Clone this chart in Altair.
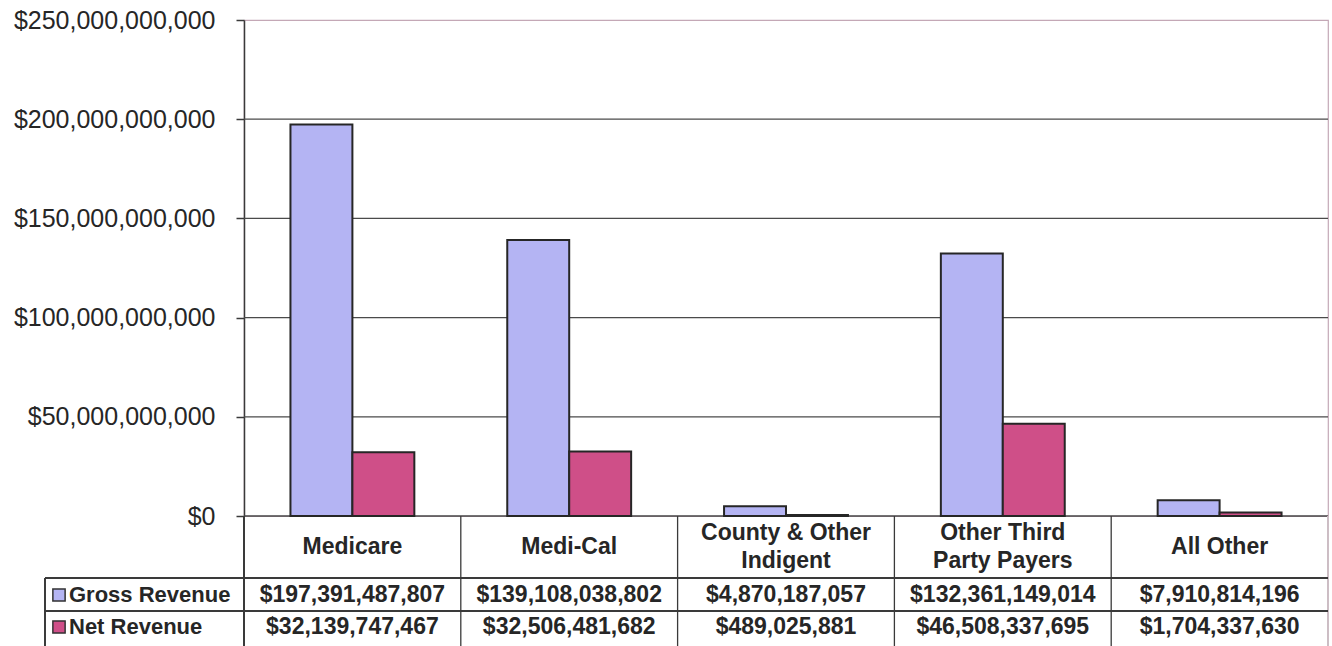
import altair as alt
import pandas as pd

# ---- data ----
categories = ["Medicare", "Medi-Cal", "County & Other Indigent", "Other Third Party Payers", "All Other"]
label_line1 = ["Medicare", "Medi-Cal", "County & Other", "Other Third", "All Other"]
label_line2 = ["", "", "Indigent", "Party Payers", ""]
series = ["Gross Revenue", "Net Revenue"]
gross = [197391487807, 139108038802, 4870187057, 132361149014, 7910814196]
net = [32139747467, 32506481682, 489025881, 46508337695, 1704337630]
y_ticks = [0, 50e9, 100e9, 150e9, 200e9, 250e9]
grid_values = [0, 50e9, 100e9, 150e9, 200e9]
colors = ["#b4b4f3", "#cf4f88"]

# ---- layout / style ----
W, H = 1084, 496
BOTTOM = 646 - 20  # bottom of canvas in plot coordinates
ROW1 = 558         # top of gross row
ROW2 = 591         # top of net row
LEFT_BOX = -199
FONT = "Liberation Sans"
TXT = "#262626"
LINE = "#3a3a3a"
TFS = 23

bars_df = pd.DataFrame(
    [{"cat": c, "series": s, "value": v}
     for s, vals in zip(series, [gross, net]) for c, v in zip(categories, vals)]
)
cat_df = pd.DataFrame({"cat": categories, "line1": label_line1, "line2": label_line2,
                       "gross_txt": [f"${v:,.0f}" for v in gross],
                       "net_txt": [f"${v:,.0f}" for v in net]})
div_df = pd.DataFrame({"cat": categories[1:]})
grid_df = pd.DataFrame({"v": grid_values})
rowlab_df = pd.DataFrame({"series": series, "label": series})

yscale = alt.Scale(domain=[0, 250e9], nice=False)
xscale = alt.Scale(domain=categories, paddingInner=0, paddingOuter=0)
yaxis = alt.Axis(values=y_ticks, format="$,.0f", grid=False, title=None, labelLimit=400,
                 labelFont=FONT, labelFontSize=25, labelColor=TXT, labelPadding=21,
                 tickSize=8, tickColor=LINE, domainColor=LINE, domainWidth=1.5, tickWidth=1.5)
xenc = alt.X("cat:N", sort=categories, scale=xscale, axis=None, bandPosition=0.5)

grid = alt.Chart(grid_df).mark_rule(color="#4a4a4a", strokeWidth=1.3).encode(
    y=alt.Y("v:Q", scale=yscale, axis=yaxis)
)

bars = alt.Chart(bars_df).mark_bar(stroke="#262626", strokeWidth=2).encode(
    x=alt.X("cat:N", sort=categories, scale=xscale, axis=None),
    xOffset=alt.XOffset("series:N", sort=series,
                        scale=alt.Scale(domain=series, paddingInner=0, paddingOuter=0.75)),
    y=alt.Y("value:Q", scale=yscale, axis=yaxis),
    color=alt.Color("series:N", scale=alt.Scale(domain=series, range=colors), legend=None),
)

# table lines
dividers = alt.Chart(div_df).mark_rule(color=LINE, strokeWidth=1.3).encode(
    x=alt.X("cat:N", sort=categories, scale=xscale, axis=None, bandPosition=0),
    y=alt.value(H), y2=alt.value(BOTTOM),
)
left_ext = alt.Chart(div_df).mark_rule(color=LINE, strokeWidth=1.5).encode(
    x=alt.value(0), y=alt.value(H), y2=alt.value(BOTTOM))
left_box = alt.Chart(div_df).mark_rule(color=LINE, strokeWidth=1.3).encode(
    x=alt.value(LEFT_BOX), y=alt.value(ROW1), y2=alt.value(BOTTOM))
right_ext = alt.Chart(div_df).mark_rule(color="#c9b9c1", strokeWidth=1).encode(
    x=alt.value(W), y=alt.value(H), y2=alt.value(BOTTOM))
hline1 = alt.Chart(div_df).mark_rule(color=LINE, strokeWidth=1.3).encode(
    x=alt.value(LEFT_BOX), x2=alt.value(W), y=alt.value(ROW1))
hline2 = alt.Chart(div_df).mark_rule(color=LINE, strokeWidth=1.3).encode(
    x=alt.value(LEFT_BOX), x2=alt.value(W), y=alt.value(ROW2))

# table text
tstyle = dict(font=FONT, fontSize=TFS, fontWeight="bold", color=TXT, baseline="middle", align="center")
cat_single = alt.Chart(cat_df).transform_filter("datum.line2 == ''").mark_text(**tstyle).encode(
    x=xenc, y=alt.value(H + 31), text="line1:N")
cat_top = alt.Chart(cat_df).transform_filter("datum.line2 != ''").mark_text(**tstyle).encode(
    x=xenc, y=alt.value(H + 17), text="line1:N")
cat_bot = alt.Chart(cat_df).transform_filter("datum.line2 != ''").mark_text(**tstyle).encode(
    x=xenc, y=alt.value(H + 45), text="line2:N")
gross_text = alt.Chart(cat_df).mark_text(**tstyle).encode(
    x=xenc, y=alt.value(ROW1 + 17), text="gross_txt:N")
net_text = alt.Chart(cat_df).mark_text(**tstyle).encode(
    x=xenc, y=alt.value(ROW2 + 16), text="net_txt:N")

lstyle = dict(font=FONT, fontSize=22, fontWeight="bold", color=TXT, baseline="middle", align="left")
gross_lab = alt.Chart(rowlab_df.iloc[[0]]).mark_text(**lstyle).encode(
    x=alt.value(-175), y=alt.value(ROW1 + 17), text="label:N")
net_lab = alt.Chart(rowlab_df.iloc[[1]]).mark_text(**lstyle).encode(
    x=alt.value(-175), y=alt.value(ROW2 + 16), text="label:N")
gross_sq = alt.Chart(rowlab_df.iloc[[0]]).mark_square(
    size=150, filled=True, fill=colors[0], stroke="#333", strokeWidth=1.5, opacity=1
).encode(x=alt.value(-185), y=alt.value(ROW1 + 17))
net_sq = alt.Chart(rowlab_df.iloc[[1]]).mark_square(
    size=150, filled=True, fill=colors[1], stroke="#333", strokeWidth=1.5, opacity=1
).encode(x=alt.value(-185), y=alt.value(ROW2 + 16))

chart = alt.layer(
    grid, bars, dividers, left_ext, left_box, right_ext, hline1, hline2,
    cat_single, cat_top, cat_bot, gross_text, net_text, gross_lab, net_lab, gross_sq, net_sq
).properties(
    width=W, height=H,
    autosize=alt.AutoSizeParams(type="none"),
    padding={"left": 244, "top": 20, "right": 1332 - 244 - W, "bottom": 646 - 20 - H},
    background="white",
).configure_view(stroke="#c4a8b6", strokeWidth=1.2)

chart.save("out.html", embed_options={"renderer": "svg", "actions": False})
